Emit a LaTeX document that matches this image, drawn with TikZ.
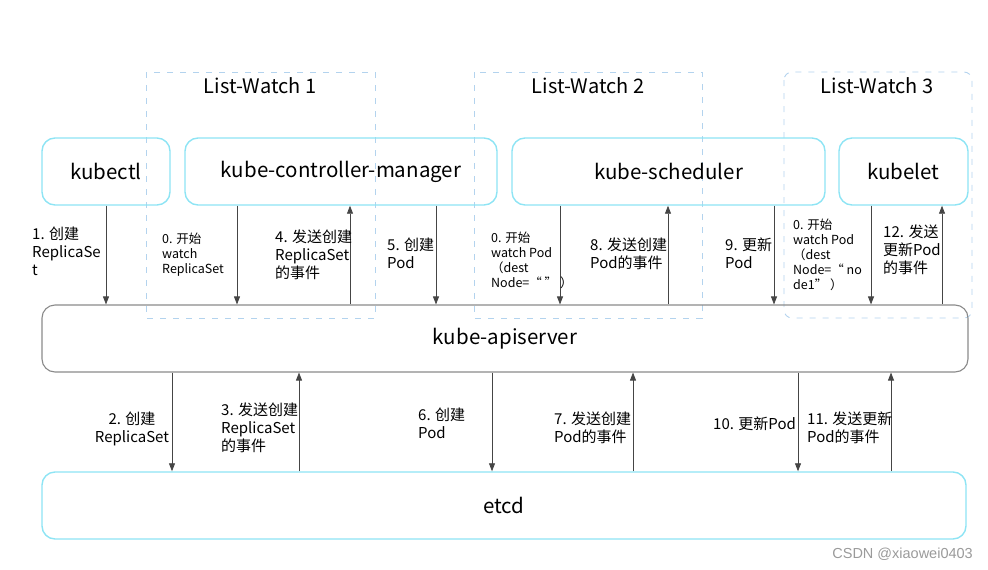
\documentclass[tikz,border=0pt]{standalone}
\usepackage{fontspec}
\setmainfont{Noto Sans CJK SC}
\newfontfamily\wmfont{Liberation Sans}
\usetikzlibrary{arrows.meta}
\definecolor{boxcyan}{HTML}{8EE4F4}
\definecolor{lwblue}{HTML}{B3D3EE}
\definecolor{apigray}{HTML}{8A8A8A}
\definecolor{linegray}{HTML}{454545}
\definecolor{wmgray}{HTML}{9A9A9A}

\begin{document}
\begin{tikzpicture}[x=1pt, y=-1pt,
		comp/.style={draw=boxcyan, line width=1.4pt, rounded corners=13pt, minimum height=67pt, font=\fontsize{20.5}{25}\selectfont},
		apibox/.style={comp, draw=apigray, line width=1.1pt},
		lwbox/.style={draw=lwblue, line width=0.9pt, dash pattern=on 6pt off 7pt},
		lwtitle/.style={font=\fontsize{20}{24}\selectfont},
		msg/.style={anchor=north west, inner sep=0pt, align=left, font=\fontsize{15}{18}\selectfont},
		msgsmall/.style={msg, font=\fontsize{12.5}{15}\selectfont},
		arr/.style={draw=linegray, line width=0.8pt, -{Triangle[length=8pt,width=6pt]}}]
			\useasboundingbox (0,0) rectangle (988,570);
			
			%list-watch frames
			\draw[lwbox] (146,72) rectangle (375,318);
			\draw[lwbox] (474,72) rectangle (702,318);
			\draw[lwbox, rounded corners=8pt] (784,72) rectangle (972,318);
			\node[lwtitle] (lw1) at (260,86){List-Watch 1};
			\node[lwtitle] (lw2) at (588,86){List-Watch 2};
			\node[lwtitle] (lw3) at (877,86){List-Watch 3};
			
			%components
			\node[comp, minimum width=128pt] (kubectl) at (106,171.5){kubectl};
			\node[comp, minimum width=312pt] (kcm) at (341,171.5){kube-controller-manager};
			\node[comp, minimum width=313pt] (sched) at (668.5,171.5){kube-scheduler};
			\node[comp, minimum width=129pt] (kubelet) at (903.5,171.5){kubelet};
			\node[apibox, minimum width=926pt] (api) at (505,338.5){kube-apiserver};
			\node[comp, minimum width=924pt] (etcd) at (504,505.5){etcd};
			
			%requests going down
			\foreach \x/\from/\to in {106/kubectl/api, 237/kcm/api, 436/kcm/api, 560/sched/api, 774/sched/api, 871/kubelet/api, 172/api/etcd, 492/api/etcd, 798/api/etcd}{
				\coordinate (p) at (\x,0);
				\draw[arr] (\from.south -| p) -- (\to.north -| p);
			}
			%events going up
			\foreach \x/\from/\to in {350/api/kcm, 668/api/sched, 942/api/kubelet, 299/etcd/api, 633/etcd/api, 891/etcd/api}{
				\coordinate (p) at (\x,0);
				\draw[arr] (\from.north -| p) -- (\to.south -| p);
			}
			
			%upper labels
			\node[msg] (m1) at (32,227){1. 创建\\ReplicaSe\\t};
			\node[msgsmall] (w1) at (162,233){0. 开始\\watch\\ReplicaSet};
			\node[msg] (m4) at (275,230){4. 发送创建\\ReplicaSet\\的事件};
			\node[msg] (m5) at (387,238){5. 创建\\Pod};
			\node[msgsmall] (w2) at (491,232){0. 开始\\watch Pod\\（dest\\Node=“ ” ）};
			\node[msg] (m8) at (590,238){8. 发送创建\\Pod的事件};
			\node[msg] (m9) at (725,238){9. 更新\\Pod};
			\node[msgsmall] (w3) at (793,219){0. 开始\\watch Pod\\（dest\\Node=“ no\\de1” ）};
			\node[msg] (m12) at (883,225){12. 发送\\更新Pod\\的事件};
			
			%lower labels
			\node[msg, anchor=north, align=center] (m2) at (132,412){2. 创建\\ReplicaSet};
			\node[msg] (m3) at (221,403){3. 发送创建\\ReplicaSet\\的事件};
			\node[msg] (m6) at (418,408){6. 创建\\Pod};
			\node[msg] (m7) at (554,412){7. 发送创建\\Pod的事件};
			\node[msg] (m10) at (713,417){10. 更新Pod};
			\node[msg] (m11) at (807,412){11. 发送更新\\Pod的事件};
			
			\node[anchor=east, inner sep=0pt, text=wmgray, font=\wmfont\fontsize{14.5}{17}\selectfont] (wm) at (973,554){CSDN @xiaowei0403};
		\end{tikzpicture}
\end{document}
